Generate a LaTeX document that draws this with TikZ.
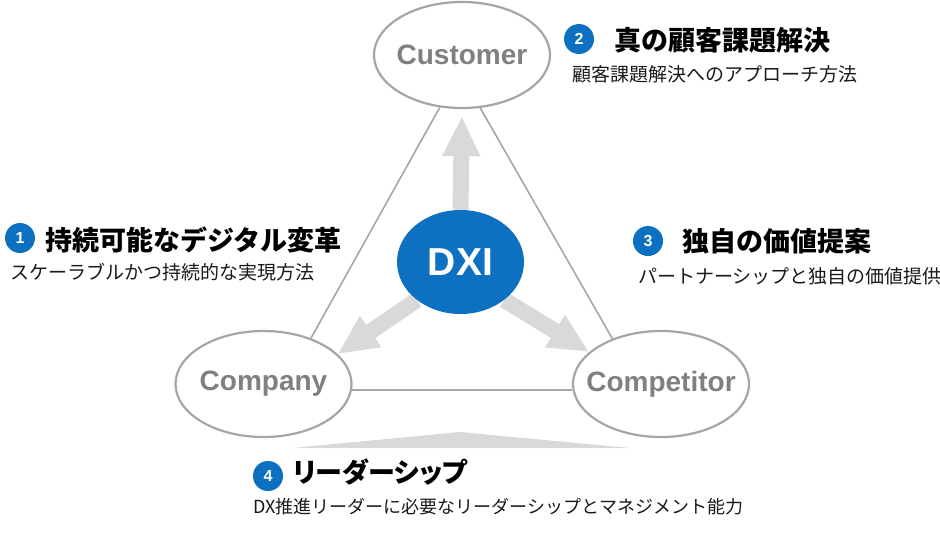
\documentclass[tikz,border=0pt]{standalone}
\usepackage{fontspec}
\setmainfont{Liberation Sans}
\newfontfamily\jp{Noto Sans CJK JP}
\newfontfamily\jpp[RawFeature=+palt]{Noto Sans CJK JP}
\usetikzlibrary{arrows.meta,shapes.geometric,backgrounds}
\definecolor{dxblue}{RGB}{14,112,192}
\definecolor{lgray}{RGB}{217,217,217}
\definecolor{egray}{RGB}{166,166,166}
\definecolor{tgray}{RGB}{128,128,128}
\begin{document}
\begin{tikzpicture}[x=1pt,y=-1pt,
  oval/.style={ellipse, draw=egray, line width=2.2pt, fill=white, minimum width=176pt, minimum height=106pt, inner sep=0pt, text=tgray, font=\bfseries\fontsize{28}{28}\selectfont},
  dxinode/.style={ellipse, fill=dxblue, minimum width=127pt, minimum height=104pt, inner sep=0pt, text=white, font=\bfseries\fontsize{39}{39}\selectfont},
  tri/.style={draw=egray, line width=1.6pt},
  blk/.style={draw=lgray, line width=16pt, -{Triangle[length=40pt,width=35pt]}},
  num/.style={circle, fill=dxblue, minimum size=30pt, inner sep=0pt, text=white, font=\bfseries\fontsize{16}{16}\selectfont},
  ttl/.style={anchor=west, inner sep=0pt, text=black, font=\jp\bfseries\fontsize{27}{27}\selectfont},
  sub/.style={anchor=west, inner sep=0pt, text=black!90, font=\jp\fontsize{19}{19}\selectfont}]
\useasboundingbox (0,0) rectangle (940,536);

% main ellipses
\node[oval] (cust) at (462,55) {\makebox[0pt][c]{Customer}};
\node[oval] (comp) at (263.5,384) {\makebox[0pt][c]{Company}};
\node[oval] (compt) at (661,384) {\makebox[0pt][c]{Competitor}};
\node[dxinode] (dxi) at (460.5,262) {DXI};

% triangle
\begin{scope}[on background layer]
\draw[tri] (cust.247) -- (comp.44);
\draw[tri] (cust.289) -- (compt.137);
\draw[tri] (comp.-4) -- (compt.184);
% block arrows
\draw[blk, shorten >=7pt] (dxi.90) -- (cust.-90);
\draw[blk] (dxi.221) -- (comp.22);
\draw[blk] (dxi.-41) -- (compt.156);
\end{scope}

% bottom wedge
\fill[lgray] (292,448) -- (460,432) -- (630,448) -- cycle;

% texts
\node[num] (n1) at (20,238) {1};
\node[ttl] (t1) at (45,240) {持続可能なデジタル変革};
\node[sub] (s1) at (10,272) {スケーラブルかつ持続的な実現方法};

\node[num] (n2) at (579,39) {2};
\node[ttl] (t2) at (614,40) {真の顧客課題解決};
\node[sub] (s2) at (572,74) {顧客課題解決へのアプローチ方法};

\node[num] (n3) at (648,241) {3};
\node[ttl] (t3) at (682,241) {独自の価値提案};
\node[sub] (s3) at (638,276) {パートナーシップと独自の価値提供};

\node[num] (n4) at (268,476) {4};
\node[ttl, font=\jpp\bfseries\fontsize{27}{27}\selectfont] (t4) at (293,472) {リーダーシップ};
\node[sub, font=\jp\fontsize{18}{18}\selectfont] (s4) at (253,507) {DX推進リーダーに必要なリーダーシップとマネジメント能力};
\end{tikzpicture}
\end{document}
